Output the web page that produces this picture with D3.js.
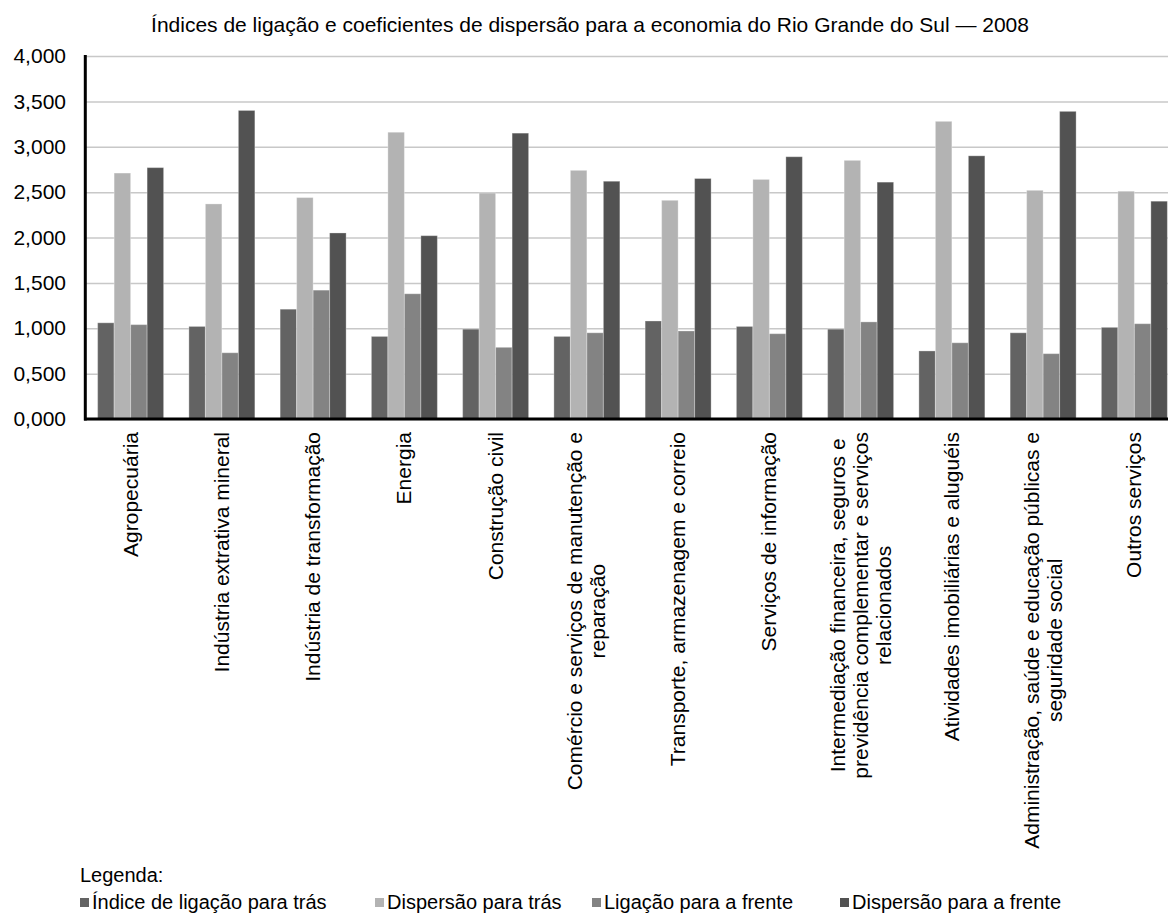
<!DOCTYPE html>
<html>
<head>
<meta charset="utf-8">
<script src="https://cdn.jsdelivr.net/npm/d3@7"></script>
<style>
  body { margin: 0; background: #fff; }
  text { font-family: "Liberation Sans", Arial, sans-serif; fill: #000; }
</style>
</head>
<body>
<div id="chart-area"></div>
<script>
// data
var categories = ["Agropecuária", "Indústria extrativa mineral", "Indústria de transformação",
  "Energia", "Construção civil", "Comércio e serviços de manutenção e reparação",
  "Transporte, armazenagem e correio", "Serviços de informação",
  "Intermediação financeira, seguros e previdência complementar e serviços relacionados",
  "Atividades imobiliárias e aluguéis",
  "Administração, saúde e educação públicas e seguridade social", "Outros serviços"]

// how each category label breaks into lines
var labelLines = [
  ["Agropecuária"],
  ["Indústria extrativa mineral"],
  ["Indústria de transformação"],
  ["Energia"],
  ["Construção civil"],
  ["Comércio e serviços de manutenção e", "reparação"],
  ["Transporte, armazenagem e correio"],
  ["Serviços de informação"],
  ["Intermediação financeira, seguros e", "previdência complementar e serviços", "relacionados"],
  ["Atividades imobiliárias e aluguéis"],
  ["Administração, saúde e educação públicas e", "seguridade social"],
  ["Outros serviços"]
]

var seriesNames = ["Índice de ligação para trás", "Dispersão para trás",
  "Ligação para a frente", "Dispersão para a frente"]

var indiceTras      = [1.06, 1.02, 1.21, 0.91, 0.99, 0.91, 1.08, 1.02, 0.99, 0.75, 0.95, 1.01]
var dispersaoTras   = [2.71, 2.37, 2.44, 3.16, 2.49, 2.74, 2.41, 2.64, 2.85, 3.28, 2.52, 2.51]
var ligacaoFrente   = [1.04, 0.73, 1.42, 1.38, 0.79, 0.95, 0.97, 0.94, 1.07, 0.84, 0.72, 1.05]
var dispersaoFrente = [2.77, 3.40, 2.05, 2.02, 3.15, 2.62, 2.65, 2.89, 2.61, 2.90, 3.39, 2.40]

var yTicks = [0, 0.5, 1, 1.5, 2, 2.5, 3, 3.5, 4]

var title = "Índices de ligação e coeficientes de dispersão para a economia do Rio Grande do Sul — 2008"

var width = 1168
var height = 913

var svg = d3.select("#chart-area").append("svg")
  .attr("width", width)
  .attr("height", height)

var allSeries = [indiceTras, dispersaoTras, ligacaoFrente, dispersaoFrente]

var color = d3.scaleOrdinal()
  .domain(seriesNames)
  .range(["#636363", "#b3b3b3", "#838383", "#525252"])

// plot runs past the right edge, like the source image
var x = d3.scaleBand()
  .domain(categories)
  .range([85, 1180])
  .paddingInner(0.277)
  .paddingOuter(0.1385)

var xInner = d3.scaleBand()
  .domain(seriesNames)
  .range([0, x.bandwidth()])

var y = d3.scaleLinear()
  .domain([0, 4])
  .range([419, 56])

var ptBR = d3.formatLocale({decimal: ",", thousands: ".", grouping: [3], currency: ["R$", ""]})
var fmt = ptBR.format(".3f")

// Title
svg.append("text")
  .attr("x", 590)
  .attr("y", 32)
  .attr("text-anchor", "middle")
  .attr("font-size", "21px")
  .text(title)

// grid lines
svg.append("g")
  .attr("class", "grid")
  .attr("transform", "translate(85, 0)")
  .call(d3.axisLeft(y).tickValues(yTicks).tickSize(-(width - 85)).tickFormat(""))
  .call(g => g.select(".domain").remove())
  .call(g => g.selectAll("line").attr("stroke", "#c8c8c8").attr("stroke-width", 1.5))

// Y axis labels
var yAxisGroup = svg.append("g")
  .attr("transform", "translate(66, 0)")
  .call(d3.axisLeft(y).tickValues(yTicks).tickSize(0).tickPadding(0).tickFormat(fmt))
yAxisGroup.select(".domain").remove()
yAxisGroup.selectAll("text")
  .attr("font-size", "21px")
  .attr("font-family", "'Liberation Sans', Arial, sans-serif")
  .attr("fill", "#000")

// bars
var rows = categories.map((c, i) => ({
  category: c,
  values: seriesNames.map((s, j) => ({series: s, value: allSeries[j][i]}))
}))

var groups = svg.selectAll("g.cat")
  .data(rows)
  .enter().append("g")
  .attr("class", "cat")
  .attr("transform", d => "translate(" + x(d.category) + ",0)")

groups.selectAll("rect")
  .data(d => d.values)
  .enter().append("rect")
  .attr("x", d => xInner(d.series))
  .attr("width", xInner.bandwidth())
  .attr("y", d => y(d.value))
  .attr("height", d => y(0) - y(d.value))
  .attr("fill", d => color(d.series))
  .attr("stroke", "#ffffff")
  .attr("stroke-opacity", 0.3)
  .attr("stroke-width", 1)

// axis lines
svg.append("line")
  .attr("x1", 85.3).attr("x2", 85.3)
  .attr("y1", 55).attr("y2", 420.5)
  .attr("stroke", "#000").attr("stroke-width", 3)

svg.append("line")
  .attr("x1", 84).attr("x2", width)
  .attr("y1", 419).attr("y2", 419)
  .attr("stroke", "#000").attr("stroke-width", 3)

// category labels (rotated, multi-line centred)
var lineStep = 23
categories.forEach((c, i) => {
  var lines = labelLines[i]
  var lab = svg.append("g")
    .attr("transform", "translate(" + (x(c) + x.bandwidth() / 2) + ", 432) rotate(-90)")
  var texts = lines.map((t, k) => lab.append("text")
    .attr("font-size", "21px")
    .attr("y", (k - (lines.length - 1) / 2) * lineStep + 7)
    .text(t))
  var maxW = d3.max(texts, t => t.node().getComputedTextLength())
  texts.forEach(t => t.attr("text-anchor", "middle").attr("x", -maxW / 2))
})

// Legend
svg.append("text")
  .attr("x", 80)
  .attr("y", 882)
  .attr("font-size", "20px")
  .text("Legenda:")

var legendX = [80, 375, 592, 840]
var legend = svg.append("g")

seriesNames.forEach((s, i) => {
  var row = legend.append("g")
    .attr("transform", "translate(" + legendX[i] + ", 903)")

  row.append("rect")
    .attr("y", -5)
    .attr("width", 9)
    .attr("height", 9)
    .attr("fill", color(s))

  row.append("text")
    .attr("x", 12)
    .attr("y", 6)
    .attr("font-size", "20px")
    .text(s)
})
</script>
</body>
</html>
